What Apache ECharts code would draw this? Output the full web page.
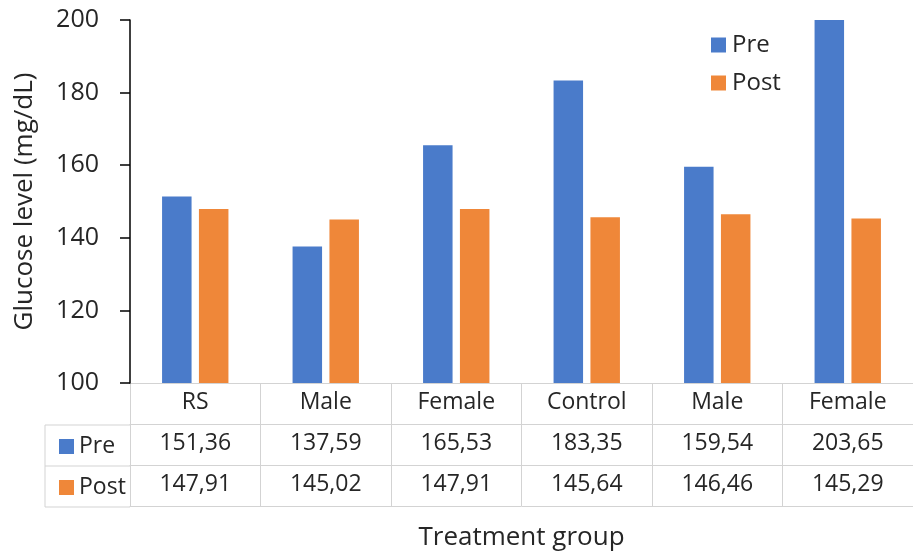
<!DOCTYPE html>
<html>
<head>
<meta charset="utf-8">
<script src="https://cdn.jsdelivr.net/npm/echarts@6/dist/echarts.min.js"></script>
<style>
  html, body { margin: 0; padding: 0; background: #fff; }
  #chart { width: 913px; height: 556px; }
</style>
</head>
<body>
<div id="chart"></div>
<script>
// Glucose level before and after treatment, per group
const categories = ['RS', 'Male', 'Female', 'Control', 'Male', 'Female'];
const seriesNames = ['Pre', 'Post'];
const preValues = [151.36, 137.59, 165.53, 183.35, 159.54, 203.65];
const postValues = [147.91, 145.02, 147.91, 145.64, 146.46, 145.29];
const yTicks = { min: 100, max: 200, interval: 20 };

const FONT = '"Open Sans", sans-serif';
const TEXT = '#262626';
const GRIDLINE = '#d3d3d3';
const BLUE = '#4a7bca';
const ORANGE = '#ef8739';

// Table cell text: decimal comma
const fmt = v => v.toFixed(2).replace('.', ',');

const chart = echarts.init(document.getElementById('chart'), null, { renderer: 'canvas' });

const tableAxis = (data, offset, extra) => Object.assign({
  type: 'category',
  data: data,
  position: 'bottom',
  offset: offset,
  gridIndex: 0,
  axisLine: { show: true, lineStyle: { color: GRIDLINE, width: 1 } },
  axisTick: { show: false },
  axisLabel: { show: true, interval: 0, margin: 8, color: TEXT, fontFamily: FONT, fontSize: 23 },
  splitLine: { show: false }
}, extra || {});

const option = {
  backgroundColor: '#fff',
  animation: false,
  color: [BLUE, ORANGE],
  grid: { left: 130, right: -7, top: 20, bottom: 172, containLabel: false },
  legend: [
    {
      data: seriesNames,
      orient: 'vertical',
      left: 706,
      top: 28,
      itemWidth: 15,
      itemHeight: 15,
      itemGap: 14,
      icon: 'rect',
      selectedMode: false,
      textStyle: { color: TEXT, fontFamily: FONT, fontSize: 24, padding: [0, 0, 0, 1] }
    },
    {
      data: seriesNames,
      orient: 'vertical',
      left: 54,
      top: 430,
      itemWidth: 15,
      itemHeight: 15,
      itemGap: 18,
      icon: 'rect',
      selectedMode: false,
      textStyle: { color: TEXT, fontFamily: FONT, fontSize: 23 }
    }
  ],
  xAxis: [
    tableAxis(categories, 0, {
      axisTick: { show: true, interval: 0, alignWithLabel: false, inside: false, length: 123,
                  lineStyle: { color: GRIDLINE, width: 1 } }
    }),
    tableAxis(preValues.map(fmt), 41),
    tableAxis(postValues.map(fmt), 82),
    tableAxis(categories, 123, {
      axisLabel: { show: false },
      name: 'Treatment group',
      nameLocation: 'middle',
      nameGap: 19,
      nameTextStyle: { color: TEXT, fontFamily: FONT, fontSize: 26 }
    })
  ],
  yAxis: {
    type: 'value',
    min: yTicks.min,
    max: yTicks.max,
    interval: yTicks.interval,
    name: 'Glucose level (mg/dL)',
    nameLocation: 'middle',
    nameGap: 92,
    nameTextStyle: { color: TEXT, fontFamily: FONT, fontSize: 26 },
    axisLine: { show: true, lineStyle: { color: '#000', width: 1.5 } },
    axisTick: { show: true, inside: false, length: 10, lineStyle: { color: '#000', width: 1.5 } },
    axisLabel: { margin: 31, color: TEXT, fontFamily: FONT, fontSize: 25 },
    splitLine: { show: false },
    z: 5
  },
  series: [
    {
      name: seriesNames[0],
      type: 'bar',
      data: preValues,
      barWidth: 29.5,
      barGap: '25%',
      clip: true,
      itemStyle: { color: BLUE }
    },
    {
      name: seriesNames[1],
      type: 'bar',
      data: postValues,
      barWidth: 29.5,
      barGap: '25%',
      clip: true,
      itemStyle: { color: ORANGE }
    }
  ],
  // Borders of the row-header column of the data table
  graphic: [
    {
      type: 'polyline',
      shape: { points: [[130, 425], [45, 425], [45, 507], [130, 507]] },
      style: { stroke: GRIDLINE, lineWidth: 1, fill: null },
      silent: true
    },
    {
      type: 'line',
      shape: { x1: 45, y1: 466, x2: 130, y2: 466 },
      style: { stroke: GRIDLINE, lineWidth: 1 },
      silent: true
    }
  ]
};

chart.setOption(option);
</script>
</body>
</html>
